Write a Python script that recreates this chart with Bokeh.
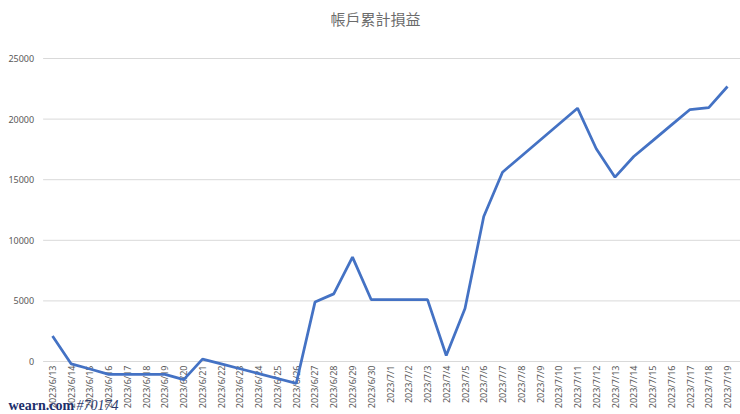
import math
from bokeh.plotting import figure
from bokeh.models import Range1d, Label
from bokeh.core.properties import value
from bokeh.embed import file_html
from bokeh.resources import INLINE

title_text = "帳戶累計損益"

dates = [
    "2023/6/13", "2023/6/14", "2023/6/15", "2023/6/16", "2023/6/17", "2023/6/18",
    "2023/6/19", "2023/6/20", "2023/6/21", "2023/6/22", "2023/6/23", "2023/6/24",
    "2023/6/25", "2023/6/26", "2023/6/27", "2023/6/28", "2023/6/29", "2023/6/30",
    "2023/7/1", "2023/7/2", "2023/7/3", "2023/7/4", "2023/7/5", "2023/7/6",
    "2023/7/7", "2023/7/8", "2023/7/9", "2023/7/10", "2023/7/11", "2023/7/12",
    "2023/7/13", "2023/7/14", "2023/7/15", "2023/7/16", "2023/7/17", "2023/7/18",
    "2023/7/19",
]

pnl = [
    2100, -200, -620, -1060, -1060, -1060,
    -1060, -1500, 200, -200, -600, -1000,
    -1400, -1800, 4900, 5580, 8610, 5100,
    5100, 5100, 5100, 500, 4380, 11960,
    15620, 16940, 18260, 19580, 20900, 17550,
    15210, 16910, 18200, 19500, 20790, 20950,
    22690,
]

y_ticks = [0, 5000, 10000, 15000, 20000, 25000]
y_tick_labels = [str(t) for t in y_ticks]

watermark_site = "wearn.com"
watermark_id = "#70174"

# category positions (Excel category axis: one slot per date)
x_idx = list(range(len(dates)))
zero_line = [0] * len(dates)

# ----- layout (whole canvas is the plotting frame) -----
W, H = 740, 414
X0, X1 = -2.773, 36.693          # 18.75 px per category
Y_MIN, Y_MAX = -4373, 29785       # 60.6 px per 5000
plot_left = x_idx[0] - 0.5        # left edge of the plot area

p = figure(
    width=W, height=H,
    x_range=Range1d(X0, X1), y_range=Range1d(Y_MIN, Y_MAX),
    output_backend="svg", toolbar_location=None,
    min_border_left=0, min_border_right=0, min_border_top=0, min_border_bottom=0,
)
p.background_fill_color = "white"
p.border_fill_color = "white"
p.outline_line_color = None
p.xaxis.visible = False
p.yaxis.visible = False
p.xgrid.grid_line_color = None
p.ygrid.grid_line_color = None

# horizontal gridlines
p.segment(
    x0=[plot_left] * len(y_ticks), x1=[X1] * len(y_ticks),
    y0=y_ticks, y1=y_ticks,
    line_color="#d9d9d9", line_width=1,
)

# value-axis labels
p.text(
    x=[plot_left] * len(y_ticks), y=y_ticks, text=y_tick_labels,
    x_offset=-9, text_align="right", text_baseline="middle",
    text_font=value("Noto Sans"), text_font_size="9px", text_color="#595959",
)

# category labels next to the zero line
p.text(
    x=x_idx, y=zero_line, text=dates,
    angle=math.pi / 2, text_align="right", text_baseline="middle",
    y_offset=4, text_font=value("Noto Sans"), text_font_size="9px",
    text_color="#595959",
)

p.line(x=x_idx, y=pnl, line_color="#4472c4", line_width=2.75)

# chart title
p.add_layout(Label(
    x=(X0 + X1) / 2, y=Y_MAX, x_offset=5, y_offset=-18, text=title_text,
    text_align="center", text_baseline="middle",
    text_font="Noto Sans CJK TC", text_font_size="15px", text_color="#6b6b6b",
))

# watermark
p.add_layout(Label(
    x=X0, y=Y_MIN, x_offset=8, y_offset=9, text=watermark_site,
    text_font="Liberation Serif", text_font_style="bold", text_font_size="14px",
    text_color="#1c2f6b", text_baseline="alphabetic",
))
p.add_layout(Label(
    x=X0, y=Y_MIN, x_offset=76, y_offset=9, text=watermark_id,
    text_font="Liberation Serif", text_font_style="italic", text_font_size="14px",
    text_color="#2b3b6e", text_baseline="alphabetic",
))

open("out.html", "w").write(file_html(p, INLINE))
